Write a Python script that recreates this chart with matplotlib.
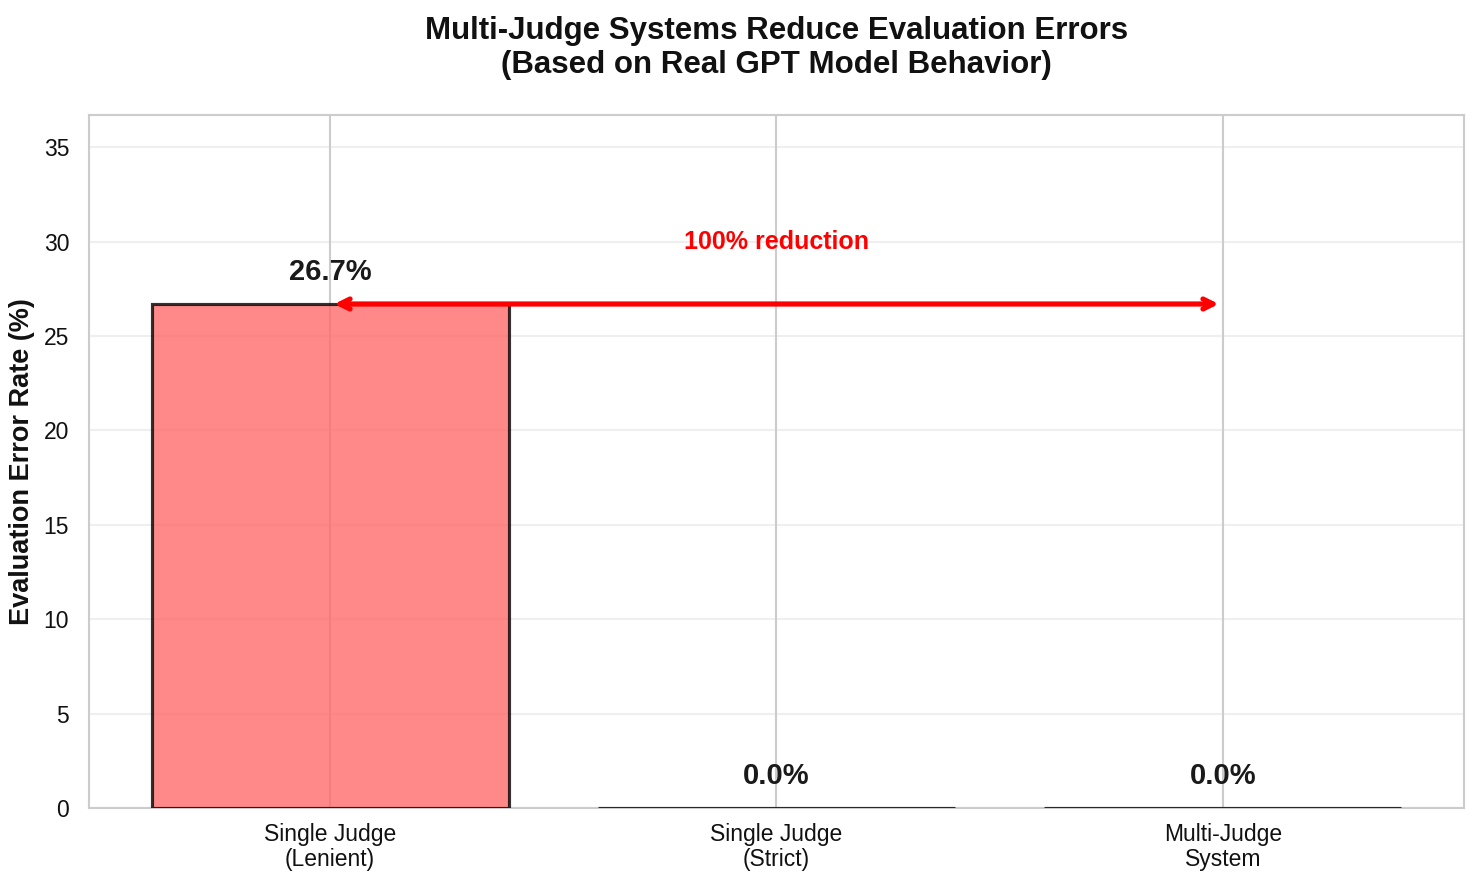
import matplotlib
matplotlib.use("Agg")
import matplotlib.pyplot as plt
import seaborn as sns

categories = ["Single Judge\n(Lenient)", "Single Judge\n(Strict)", "Multi-Judge\nSystem"]
error_rates = [26.7, 0.0, 0.0]
bar_colors = ["#ff6b6b", "#4ecdc4", "#45b7d1"]
title = "Multi-Judge Systems Reduce Evaluation Errors\n(Based on Real GPT Model Behavior)"
ylabel = "Evaluation Error Rate (%)"
reduction_text = "100% reduction"

sns.set_theme(style="whitegrid")
plt.rcParams["font.family"] = ["Liberation Sans", "DejaVu Sans"]
plt.rcParams["axes.linewidth"] = 1.0

fig = plt.figure(figsize=(1479 / 150, 886 / 150), dpi=150)
ax = fig.add_axes([89 / 1479, 1 - 808 / 886, (1464 - 89) / 1479, (808 - 115) / 886])

x = list(range(len(categories)))
bars = ax.bar(x, error_rates, width=0.8, color=bar_colors, alpha=0.8,
              edgecolor="black", linewidth=1.5, zorder=2.6)

ax.set_ylim(0, max(error_rates) * 1.375)
ax.set_xticks(x)
ax.set_xticklabels(categories, fontsize=11, color="#111111")
for lbl in ax.get_xticklabels():
    lbl.set_linespacing(1.1)
ax.tick_params(axis="x", pad=1.4)
ax.tick_params(axis="y", labelsize=11, labelcolor="#111111")
ax.set_ylabel(ylabel, fontsize=13, fontweight="bold", color="#111111")
ax.set_title(title, fontsize=15, fontweight="bold", pad=20, color="#111111")
ax.grid(axis="y", alpha=0.3)

for xi, v in zip(x, error_rates):
    ax.text(xi, v + 0.95, f"{v:.1f}%", ha="center", va="bottom",
            fontsize=14, fontweight="bold", color="#1a1a1a")

ax.annotate("", xy=(x[0], error_rates[0]), xytext=(x[2], error_rates[0]),
            arrowprops=dict(arrowstyle="<->", color="red", lw=2.5), zorder=4)
ax.text(x[1], error_rates[0] + 3.3, reduction_text, ha="center", va="center",
        fontsize=12, fontweight="bold", color="red")

fig.savefig("out.png", dpi=150)
